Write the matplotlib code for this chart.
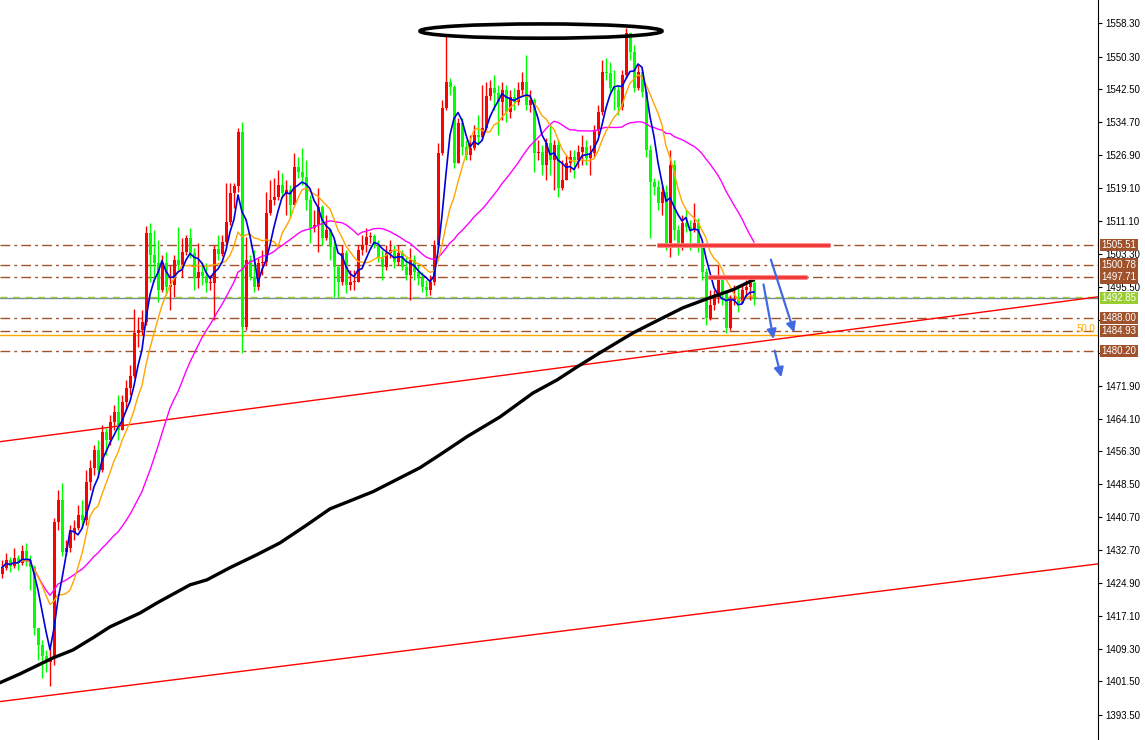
import numpy as np
import pandas as pd
import matplotlib
matplotlib.use("Agg")
import matplotlib.pyplot as plt
from matplotlib.patches import Ellipse

plt.rcParams["font.family"] = ["Liberation Sans", "DejaVu Sans"]

# ---- candle data (one bar per period, oldest first) ----
first_open = 1427.0
closes = [
    1428.6, 1430.5, 1429.0, 1430.9, 1429.8, 1432.6, 1430.5, 1428.8, 1414.3, 1410.2,
    1407.6, 1406.2, 1407.1, 1439.5, 1444.8, 1432.4, 1433.3, 1437.1, 1438.1, 1441.2,
    1440.0, 1449.0, 1452.4, 1456.7, 1451.9, 1460.9, 1459.0, 1463.3, 1465.7, 1461.4,
    1468.1, 1471.4, 1474.3, 1484.5, 1485.2, 1487.1, 1508.3, 1503.1, 1501.2, 1494.8,
    1501.2, 1495.5, 1495.9, 1501.9, 1500.7, 1503.8, 1507.1, 1503.6, 1497.6, 1499.0,
    1498.1, 1496.4, 1496.4, 1504.5, 1503.3, 1506.2, 1510.9, 1517.9, 1519.5, 1532.4,
    1485.9, 1501.9, 1497.9, 1495.5, 1501.2, 1501.4, 1513.1, 1516.2, 1516.9, 1519.8,
    1517.9, 1518.6, 1515.0, 1524.0, 1522.9, 1521.7, 1516.2, 1509.5, 1510.2, 1514.5,
    1507.1, 1509.0, 1505.0, 1500.2, 1496.7, 1503.6, 1495.9, 1496.7, 1496.7, 1504.3,
    1505.5, 1507.4, 1507.6, 1505.5, 1502.6, 1500.2, 1503.6, 1504.3, 1501.4, 1503.6,
    1500.2, 1498.3, 1501.9, 1499.0, 1497.6, 1495.5, 1494.8, 1496.7, 1505.5, 1527.4,
    1538.1, 1544.3, 1543.1, 1525.0, 1534.5, 1528.8, 1526.9, 1528.6, 1531.7, 1531.2,
    1533.3, 1540.9, 1542.9, 1541.7, 1539.5, 1542.4, 1537.1, 1540.7, 1539.5, 1542.4,
    1544.3, 1538.8, 1540.0, 1527.4, 1527.6, 1524.5, 1529.8, 1525.7, 1529.3, 1519.0,
    1520.9, 1525.0, 1526.4, 1525.7, 1527.6, 1528.8, 1526.2, 1527.4, 1532.9, 1537.1,
    1546.7, 1546.4, 1542.9, 1542.4, 1538.3, 1545.9, 1555.9, 1551.4, 1542.9, 1546.7,
    1541.9, 1528.1, 1520.5, 1519.3, 1515.5, 1518.1, 1505.9, 1524.5, 1509.0, 1505.9,
    1510.7, 1509.8, 1509.0, 1510.7, 1505.0, 1499.0, 1488.1, 1491.2, 1493.1, 1497.1,
    1494.0, 1485.7, 1492.4, 1492.4, 1491.7, 1494.8, 1495.5, 1496.4, 1492.85,
]
highs = [
    1430.5, 1432.1, 1431.2, 1433.3, 1431.7, 1434.0, 1434.5, 1431.7, 1429.3, 1413.8,
    1411.4, 1409.0, 1409.5, 1440.5, 1447.1, 1448.8, 1435.2, 1438.8, 1440.0, 1443.6,
    1444.8, 1451.9, 1454.3, 1457.9, 1459.0, 1462.6, 1461.9, 1465.0, 1467.4, 1469.8,
    1469.8, 1473.3, 1476.9, 1490.2, 1488.3, 1490.0, 1510.0, 1510.7, 1509.0, 1506.7,
    1503.1, 1503.8, 1500.7, 1503.1, 1509.8, 1507.1, 1507.9, 1509.5, 1504.8, 1505.9,
    1501.4, 1501.2, 1498.3, 1505.5, 1507.9, 1507.9, 1520.2, 1520.2, 1520.2, 1533.3,
    1534.8, 1507.4, 1503.1, 1504.3, 1502.4, 1504.3, 1518.1, 1520.9, 1521.4, 1523.3,
    1522.6, 1520.9, 1519.8, 1527.4, 1526.4, 1528.6, 1525.7, 1517.4, 1513.8, 1519.0,
    1515.0, 1512.6, 1509.5, 1506.7, 1500.7, 1505.5, 1504.3, 1499.5, 1499.5, 1505.5,
    1507.9, 1509.5, 1508.6, 1508.1, 1506.7, 1504.3, 1505.5, 1506.7, 1505.5, 1505.5,
    1504.3, 1502.6, 1504.8, 1503.1, 1500.7, 1499.0, 1497.1, 1498.3, 1506.7, 1529.8,
    1540.0, 1555.5, 1545.2, 1543.6, 1535.7, 1535.7, 1530.5, 1531.7, 1534.0, 1536.4,
    1543.6, 1544.3, 1544.8, 1545.9, 1543.6, 1544.3, 1543.6, 1542.4, 1542.9, 1544.3,
    1546.7, 1550.7, 1542.4, 1540.5, 1530.5, 1529.3, 1530.9, 1534.0, 1530.5, 1530.5,
    1525.7, 1526.9, 1528.1, 1528.1, 1529.3, 1531.7, 1530.5, 1529.3, 1534.0, 1538.8,
    1549.5, 1550.0, 1549.0, 1547.1, 1543.6, 1547.1, 1557.1, 1555.5, 1553.1, 1548.3,
    1547.6, 1542.4, 1529.3, 1521.4, 1520.9, 1519.8, 1519.8, 1528.1, 1525.7, 1510.2,
    1512.6, 1513.8, 1511.4, 1515.5, 1511.9, 1505.5, 1500.0, 1494.8, 1494.8, 1500.7,
    1497.1, 1494.8, 1493.6, 1495.9, 1495.9, 1495.9, 1497.1, 1497.6, 1497.1,
]
lows = [
    1426.2, 1428.1, 1427.6, 1428.6, 1428.1, 1429.3, 1429.0, 1423.3, 1412.6, 1406.7,
    1402.4, 1403.8, 1400.5, 1405.5, 1437.6, 1431.4, 1431.7, 1432.4, 1435.2, 1437.6,
    1438.1, 1438.8, 1447.1, 1450.7, 1450.0, 1451.4, 1455.5, 1457.9, 1461.4, 1459.0,
    1461.4, 1466.2, 1469.8, 1473.8, 1481.2, 1484.0, 1486.4, 1496.7, 1496.7, 1491.9,
    1494.3, 1493.6, 1490.0, 1493.1, 1499.5, 1497.9, 1503.1, 1502.4, 1494.8, 1495.2,
    1495.9, 1494.3, 1494.8, 1487.6, 1501.9, 1502.9, 1505.5, 1510.2, 1514.3, 1518.1,
    1479.8, 1485.2, 1497.1, 1494.3, 1494.8, 1498.3, 1500.7, 1512.6, 1515.0, 1516.2,
    1516.7, 1512.6, 1512.1, 1515.0, 1521.4, 1519.8, 1513.8, 1505.9, 1508.6, 1503.8,
    1505.5, 1506.7, 1501.9, 1493.1, 1493.1, 1495.9, 1494.0, 1494.8, 1494.8, 1497.1,
    1503.1, 1503.8, 1505.9, 1504.8, 1501.4, 1497.1, 1499.5, 1502.4, 1500.0, 1500.7,
    1499.5, 1497.1, 1492.4, 1497.1, 1495.9, 1494.3, 1493.3, 1493.6, 1495.9, 1504.8,
    1526.9, 1537.6, 1541.2, 1523.8, 1526.4, 1526.9, 1525.7, 1525.7, 1528.1, 1529.3,
    1530.5, 1532.9, 1540.0, 1537.6, 1531.7, 1535.2, 1534.8, 1535.7, 1537.6, 1538.8,
    1541.2, 1537.6, 1537.1, 1522.9, 1525.7, 1522.1, 1520.9, 1522.1, 1518.6, 1516.9,
    1518.6, 1521.4, 1522.9, 1521.4, 1523.8, 1524.5, 1524.5, 1522.1, 1526.4, 1531.7,
    1536.4, 1544.8, 1541.9, 1537.6, 1536.4, 1537.6, 1545.2, 1549.5, 1541.9, 1542.4,
    1540.7, 1526.4, 1507.1, 1517.4, 1513.8, 1512.6, 1504.3, 1502.6, 1506.7, 1503.1,
    1504.3, 1508.6, 1504.3, 1508.6, 1503.8, 1497.1, 1486.4, 1487.6, 1490.0, 1491.7,
    1491.2, 1484.5, 1485.2, 1491.2, 1489.5, 1492.4, 1493.1, 1492.4, 1491.2,
]

# long moving average (bar position, price)
slow_ma_idx = [-0.5, 4.5, 12.75, 17.75, 22.75, 27, 34.5, 38.75, 47, 51.25, 57, 63.75, 69.5,
               76.25, 82, 87, 92.75, 104.5, 109.5, 116.25, 124.5, 132.75, 138.75, 143.75,
               149.5, 157.75, 163.75, 170.25, 177, 182.75, 187.75]
slow_ma_val = [1401.2, 1403.3, 1407.1, 1409.0, 1411.9, 1414.5, 1417.8, 1420.2, 1424.5, 1425.7,
               1428.6, 1431.7, 1434.5, 1438.8, 1442.6, 1444.5, 1446.7, 1452.4, 1455.5, 1459.8,
               1464.5, 1470.2, 1473.3, 1476.4, 1479.8, 1484.5, 1487.4, 1490.5, 1492.9, 1494.8,
               1497.1]

# price levels
levels = [1505.51, 1500.78, 1497.71, 1488.00, 1484.93, 1480.20]
bid = 1492.85
fib50 = 1483.9
tick_vals = [1558.30, 1550.30, 1542.50, 1534.70, 1526.90, 1519.10, 1511.10, 1503.30, 1495.50,
             1487.70, 1479.70, 1471.90, 1464.10, 1456.30, 1448.50, 1440.70, 1432.70, 1424.90,
             1417.10, 1409.30, 1401.50, 1393.50]
hidden_ticks = [1487.70, 1479.70]   # sit behind the level boxes

# drawn objects
channel_x = [-0.5, 274]
channel_upper = [1458.6, 1493.1]
channel_lower = [1396.7, 1429.5]
zone_hi = (1505.51, 163.75, 207.0)
zone_lo = (1497.71, 176.5, 201.25)
arrows = [((192.0, 1502.6), (198.25, 1484.0)),
          ((190.25, 1496.7), (193.0, 1482.4)),
          ((193.0, 1480.9), (195.0, 1473.3))]

# ---- derived ----
closes = np.array(closes)
opens = np.concatenate([[first_open], closes[:-1]])
highs = np.maximum(np.array(highs), np.maximum(opens, closes))
lows = np.minimum(np.array(lows), np.minimum(opens, closes))
x = np.arange(len(closes))
s = pd.Series(closes)
ma5 = s.rolling(5, min_periods=1).mean()
ma10 = s.rolling(10, min_periods=1).mean()
ma30 = s.rolling(30, min_periods=1).mean()

fig = plt.figure(figsize=(11.45, 7.4), dpi=100)
ax = fig.add_axes([0, 0, 1098 / 1145, 1])
ax.set_xlim(-0.5, 274)
ax.set_ylim(1387.55, 1563.8)

# levels
for lv in levels:
    ax.axhline(lv, color="#a0522d", lw=1, ls=(0, (7, 3, 2, 3)), zorder=1)
ax.axhline(fib50, color="#ffa500", lw=1, zorder=1)
ax.axhline(bid, color="#778899", lw=1, zorder=1)
ax.axhline(bid + 0.25, color="#9acd32", lw=1, ls=(0, (5, 4)), zorder=1)

# channel
ax.plot(channel_x, channel_upper, color="red", lw=1, zorder=1.5)
ax.plot(channel_x, channel_lower, color="red", lw=1, zorder=1.5)

# candles (red = up, green = down)
up = closes >= opens
colors = np.where(up, "#ff0000", "#00ff00")
ax.vlines(x, lows, highs, colors=colors, lw=1, zorder=2)
bottoms = np.minimum(opens, closes)
heights = np.maximum(np.abs(closes - opens), 0.25)
ax.bar(x, heights, bottom=bottoms, width=0.75, color=colors, linewidth=0, zorder=2)

# moving averages
ax.plot(x, ma30, color="#ff00ff", lw=1, zorder=3)
ax.plot(x, ma10, color="#ffa500", lw=1, zorder=3)
ax.plot(x, ma5, color="#0000dd", lw=1.2, zorder=3)
ax.plot(slow_ma_idx, slow_ma_val, color="black", lw=2.4, zorder=3)

# zones
for lv, x0, x1 in (zone_hi, zone_lo):
    ax.plot([x0, x1], [lv, lv], color="#ff8080", lw=3.5, solid_capstyle="butt", zorder=4)
    ax.plot([x0, x1], [lv, lv], color="#f03030", lw=1.8, solid_capstyle="butt", zorder=4)

# top ellipse
ax.add_patch(Ellipse((134.75, 1556.4), 60.5, 3.4, fill=False, ec="black", lw=2.6, zorder=5))

# arrows
for (x0, y0), (x1, y1) in arrows:
    ax.annotate("", xy=(x1, y1), xytext=(x0, y0),
                arrowprops=dict(arrowstyle="-|>", color="#4169e1", lw=1.6, mutation_scale=14),
                zorder=5)

# axis
for side in ["top", "left", "bottom"]:
    ax.spines[side].set_visible(False)
ax.spines["right"].set_color("black")
ax.set_xticks([])
ax.yaxis.tick_right()
ax.set_yticks(tick_vals)
ax.set_yticklabels(["" if v in hidden_ticks else f"{v:.2f}" for v in tick_vals])
ax.tick_params(axis="y", direction="out", length=3, labelsize=7, pad=2, colors="black")

# price boxes
box_kw = dict(xycoords=("axes fraction", "data"), xytext=(2.5, 0), textcoords="offset points",
              ha="left", va="center", fontsize=7, color="white",
              annotation_clip=False, zorder=10)
for lv in levels:
    ax.annotate(f"{lv:.2f}", xy=(1, lv),
                bbox=dict(boxstyle="square,pad=0.12", fc="#a0522d", ec="none"), **box_kw)
ax.annotate(f"{bid:.2f}", xy=(1, bid),
            bbox=dict(boxstyle="square,pad=0.12", fc="#9acd32", ec="none"), **box_kw)
ax.annotate("50.0", xy=(1, fib50), xycoords=("axes fraction", "data"),
            xytext=(-2, 1), textcoords="offset points", ha="right", va="bottom",
            fontsize=7, color="#ffa500")

fig.savefig("out.png", dpi=100)
